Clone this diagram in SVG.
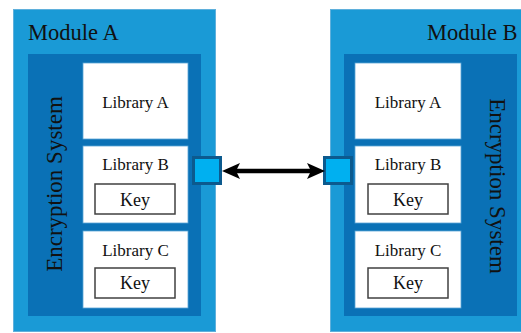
<svg xmlns="http://www.w3.org/2000/svg" width="521" height="333" viewBox="0 0 521 333">
<style>
.outer{fill:#1a9ad6;stroke:#5fb0dc;stroke-width:1}
.inner{fill:#0a71b6}
.lib{fill:#ffffff;stroke:#5aa6d6;stroke-width:0.8}
.key{fill:#ffffff;stroke:#404040;stroke-width:1.5}
.port{fill:#00b0f0;stroke:#0c5a8e;stroke-width:3}
text{font-family:"Liberation Serif","Times New Roman",serif;fill:#111111}
.title{font-size:22.5px}
.enc{font-size:23px;text-anchor:middle}
.lt{font-size:17px;text-anchor:middle}
.kt{font-size:18px;text-anchor:middle}
</style>
<defs>
<marker id="ah" viewBox="0 0 18 16" refX="4" refY="8" markerWidth="18" markerHeight="16" markerUnits="userSpaceOnUse" orient="auto-start-reverse">
<path d="M0,0 L18,8 L0,16 L4,8 Z" fill="#000"/>
</marker>
</defs>
<rect width="521" height="333" fill="#ffffff"/>
<g id="moduleA">
<rect class="outer" x="13.5" y="9.5" width="202" height="322"/>
<text class="title" x="28" y="40">Module A</text>
</g>
<g id="encA">
<rect class="inner" x="28" y="54" width="173" height="262"/>
<text class="enc" transform="translate(62,184) rotate(-90)">Encryption System</text>
</g>
<g id="libAA">
<rect class="lib" x="83" y="63" width="105" height="76"/>
<text class="lt" x="135.5" y="108">Library A</text>
</g>
<g id="libAB">
<rect class="lib" x="83" y="146" width="105" height="77"/>
<text class="lt" x="135.5" y="170">Library B</text>
</g>
<g id="keyAB">
<rect class="key" x="95" y="184" width="80" height="30"/>
<text class="kt" x="135" y="206">Key</text>
</g>
<g id="libAC">
<rect class="lib" x="83" y="231" width="105" height="77"/>
<text class="lt" x="135.5" y="256">Library C</text>
</g>
<g id="keyAC">
<rect class="key" x="95" y="268" width="80" height="30"/>
<text class="kt" x="135" y="289">Key</text>
</g>
<g id="moduleB">
<rect class="outer" x="330.5" y="9.5" width="200" height="322"/>
<text class="title" x="427" y="40">Module B</text>
</g>
<g id="encB">
<rect class="inner" x="344" y="54" width="173" height="262"/>
<text class="enc" transform="translate(490,186) rotate(90)">Encryption System</text>
</g>
<g id="libBA">
<rect class="lib" x="355" y="63" width="106" height="76"/>
<text class="lt" x="408" y="108">Library A</text>
</g>
<g id="libBB">
<rect class="lib" x="355" y="146" width="106" height="77"/>
<text class="lt" x="408" y="170">Library B</text>
</g>
<g id="keyBB">
<rect class="key" x="368" y="184" width="80" height="30"/>
<text class="kt" x="408" y="206">Key</text>
</g>
<g id="libBC">
<rect class="lib" x="355" y="231" width="106" height="77"/>
<text class="lt" x="408" y="256">Library C</text>
</g>
<g id="keyBC">
<rect class="key" x="368" y="268" width="80" height="30"/>
<text class="kt" x="408" y="289">Key</text>
</g>
<g id="portA">
<rect class="port" x="193.5" y="157.5" width="27" height="26"/>
</g>
<g id="portB">
<rect class="port" x="324.5" y="157.5" width="27" height="26"/>
</g>
<g id="connectors">
<line x1="236" y1="171" x2="311" y2="171" stroke="#000" stroke-width="4.5" marker-start="url(#ah)" marker-end="url(#ah)"/>
</g>
</svg>
